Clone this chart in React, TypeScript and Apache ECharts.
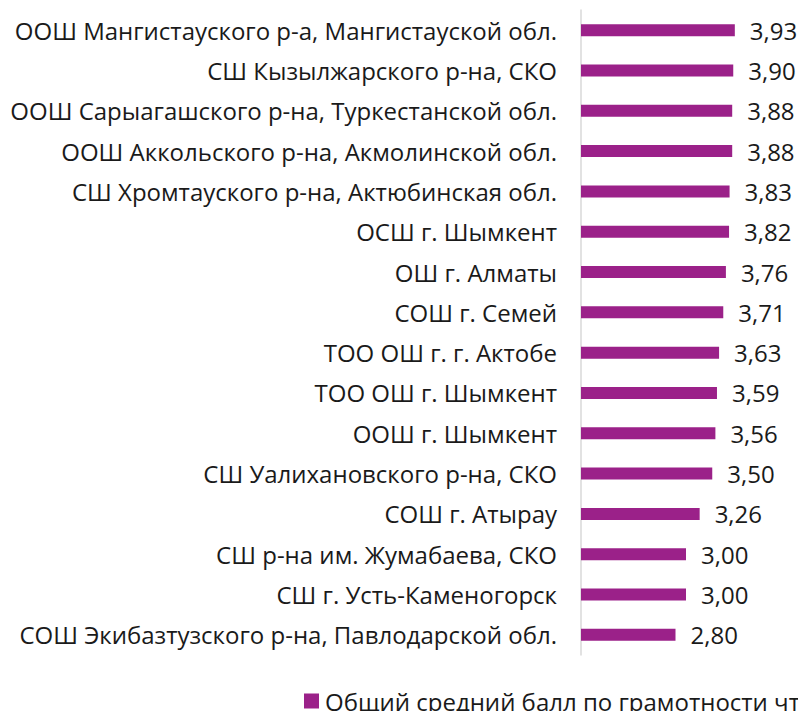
import React, { useEffect, useRef } from "react";
import * as echarts from "echarts";

const categories = [
  "ООШ Мангистауского р-а, Мангистауской обл.",
  "СШ Кызылжарского р-на, СКО",
  "ООШ Сарыагашского р-на, Туркестанской обл.",
  "ООШ Аккольского р-на, Акмолинской обл.",
  "СШ Хромтауского р-на, Актюбинская обл.",
  "ОСШ г. Шымкент",
  "ОШ г. Алматы",
  "СОШ г. Семей",
  "ТОО ОШ г. г. Актобе",
  "ТОО ОШ г. Шымкент",
  "ООШ г. Шымкент",
  "СШ Уалихановского р-на, СКО",
  "СОШ г. Атырау",
  "СШ р-на им. Жумабаева, СКО",
  "СШ г. Усть-Каменогорск",
  "СОШ Экибазтузского р-на, Павлодарской обл.",
];

const values = [3.93, 3.9, 3.88, 3.88, 3.83, 3.82, 3.76, 3.71, 3.63, 3.59, 3.56, 3.5, 3.26, 3.0, 3.0, 2.8];

const seriesName = "Общий средний балл по грамотности чтения";

export default function App() {
  const ref = useRef<HTMLDivElement>(null);
  useEffect(() => {
    document.body.style.margin = "0";
    const chart = echarts.init(ref.current!, undefined, { renderer: "svg" });
    chart.setOption({
      animation: false,
      textStyle: { fontFamily: "Open Sans" },
      grid: { left: 581, right: 7, top: 10, bottom: 56, containLabel: false },
      xAxis: {
        type: "value",
        min: 1,
        max: 5,
        show: false,
      },
      yAxis: {
        type: "category",
        data: categories,
        inverse: true,
        axisLine: { show: true, lineStyle: { color: "#d9d9d9", width: 1.5 } },
        axisTick: { show: false },
        axisLabel: { color: "#1a1a1a", fontSize: 24, margin: 24, fontFamily: "Open Sans", fontWeight: 400 },
      },
      legend: {
        left: 304,
        top: 689,
        padding: 0,
        icon: "rect",
        itemWidth: 15,
        itemHeight: 15,
        itemGap: 6,
        textStyle: { color: "#1a1a1a", fontSize: 24, fontFamily: "Open Sans", fontWeight: 400, padding: [0, 0, 0, 1] },
        data: [seriesName],
      },
      series: [
        {
          name: seriesName,
          type: "bar",
          data: values,
          barWidth: 12,
          itemStyle: { color: "#9b2189" },
          label: {
            show: true,
            position: "right",
            distance: 15,
            color: "#1a1a1a",
            fontSize: 24,
            fontFamily: "Open Sans",
            fontWeight: 400,
            formatter: (p: any) => p.value.toFixed(2).replace(".", ","),
          },
        },
      ],
    });
    return () => chart.dispose();
  }, []);
  return <div ref={ref} style={{ width: 798, height: 711 }} />;
}
